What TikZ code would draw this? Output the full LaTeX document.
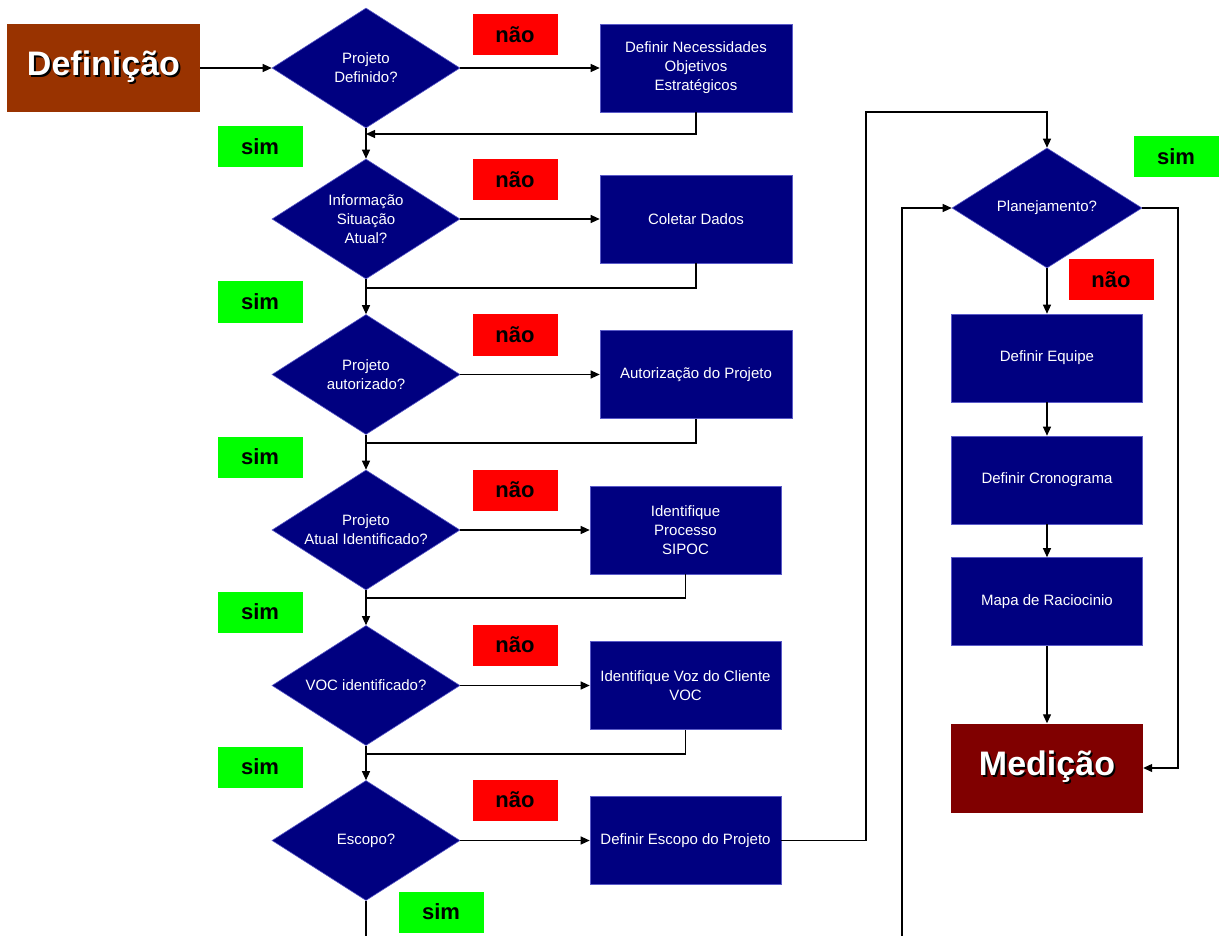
\documentclass[tikz,border=0pt]{standalone}
\usepackage{fontspec}
\setmainfont{Liberation Sans}
\usetikzlibrary{shapes.geometric,arrows.meta}
\definecolor{navy}{HTML}{000080}
\definecolor{navyedge}{HTML}{5A5AC8}
\definecolor{defbrown}{HTML}{993300}
\definecolor{medred}{HTML}{800000}
\definecolor{naored}{HTML}{FF0000}
\definecolor{simgreen}{HTML}{00FF00}
% white title text with a small black drop shadow
\newcommand{\shadowed}[1]{\leavevmode\rlap{\kern1.8pt\raisebox{-1.8pt}{\textcolor{black}{#1}}}\textcolor{white}{#1}}
\begin{document}
\begin{tikzpicture}[x=1pt,y=-1pt,
  proc/.style={rectangle, fill=navy, draw=navyedge, line width=0.6pt, text=white,
    font=\fontsize{15}{19}\selectfont, align=center, inner sep=0pt,
    minimum width=192pt, minimum height=88pt},
  decision/.style={diamond, fill=navy, draw=navyedge, line width=0.6pt, text=white,
    font=\fontsize{15}{19}\selectfont, align=center, inner sep=0pt, aspect=1.567,
    minimum width=188pt, minimum height=120pt},
  phase/.style={rectangle, inner sep=0pt, minimum width=193pt, minimum height=88pt,
    font=\fontsize{34}{40}\selectfont\bfseries},
  naotag/.style={rectangle, fill=naored, inner sep=0pt, minimum width=85pt, minimum height=41pt,
    font=\fontsize{22}{26}\selectfont\bfseries},
  simtag/.style={rectangle, fill=simgreen, inner sep=0pt, minimum width=85pt, minimum height=41pt,
    font=\fontsize{22}{26}\selectfont\bfseries},
  link/.style={draw=black, line width=1.2pt},
  arr/.style={link, -{Triangle[length=9pt,width=8pt]}}]
\useasboundingbox (0,0) rectangle (1219,936);
\fill[white] (0,0) rectangle (1219,936);

% phase boxes
\node[phase, fill=defbrown] (def) at (103.5,68) {\shadowed{Definição}};
\node[phase, fill=medred, minimum width=192pt, minimum height=89pt] (med) at (1047,768) {\shadowed{Medição}};

% decisions of the left column
\node[decision] (d1) at (366,68) {Projeto\\Definido?};
\node[decision] (d2) at (366,219) {Informação\\Situação\\Atual?};
\node[decision] (d3) at (366,374.5) {Projeto\\autorizado?};
\node[decision] (d4) at (366,530) {Projeto\\Atual Identificado?};
\node[decision] (d5) at (366,685.5) {VOC identificado?};
\node[decision] (d6) at (366,840.5) {Escopo?};

% actions of the left column
\node[proc] (b1) at (696,68) {Definir Necessidades\\Objetivos\\Estratégicos};
\node[proc] (b2) at (696,219) {Coletar Dados};
\node[proc] (b3) at (696,374.5) {Autorização do Projeto};
\node[proc, minimum width=191pt] (b4) at (685.5,530) {Identifique\\Processo\\SIPOC};
\node[proc, minimum width=191pt] (b5) at (685.5,685.5) {Identifique Voz do Cliente\\VOC};
\node[proc, minimum width=191pt] (b6) at (685.5,840.5) {Definir Escopo do Projeto};

% planning column
\node[decision, minimum width=190pt] (d7) at (1047,208) {Planejamento?};
\node[proc, minimum width=191pt] (eq) at (1047,358) {Definir Equipe};
\node[proc, minimum width=191pt] (cr) at (1047,480) {Definir Cronograma};
\node[proc, minimum width=191pt] (ma) at (1047,601.5) {Mapa de Raciocinio};

% answer tags
\node[naotag] (n1) at (515,35) {não};
\node[naotag] (n2) at (515,180) {não};
\node[naotag] (n3) at (515,335) {não};
\node[naotag] (n4) at (515,490) {não};
\node[naotag] (n5) at (515,645) {não};
\node[naotag] (n6) at (515,800) {não};
\node[naotag] (n7) at (1111,280) {não};
\node[simtag] (s1) at (260,147) {sim};
\node[simtag] (s2) at (260,302) {sim};
\node[simtag] (s3) at (260,457) {sim};
\node[simtag] (s4) at (260,612) {sim};
\node[simtag] (s5) at (260,767) {sim};
\node[simtag] (s6) at (441,912) {sim};
\node[simtag] (s7) at (1176,157) {sim};

% junction points on the main line
\coordinate (j1) at (366,134);
\coordinate (j2) at (366,288);
\coordinate (j3) at (366,443);
\coordinate (j4) at (366,598);
\coordinate (j5) at (366,754);
\coordinate (e2) at (366,936);
\coordinate (t1) at (866,112);
\coordinate (e1) at (902,936);
\coordinate (r1) at (1178,208);

% main flow
\draw[arr] (def.east) -- (d1.west);
\draw[arr] (d1.east) -- (b1.west);
\draw[arr] (d2.east) -- (b2.west);
\draw[arr] (d3.east) -- (b3.west);
\draw[arr] (d4.east) -- (b4.west);
\draw[arr] (d5.east) -- (b5.west);
\draw[arr] (d6.east) -- (b6.west);
\draw[arr] (d1.south) -- (d2.north);
\draw[arr] (d2.south) -- (d3.north);
\draw[arr] (d3.south) -- (d4.north);
\draw[arr] (d4.south) -- (d5.north);
\draw[arr] (d5.south) -- (d6.north);
\draw[link] (d6.south) -- (e2);

% returns to the main line
\draw[arr] (b1.south) |- (j1);
\draw[link] (b2.south) |- (j2);
\draw[link] (b3.south) |- (j3);
\draw[link] (b4.south) |- (j4);
\draw[link] (b5.south) |- (j5);

% planning
\draw[arr] (b6.east) -| (t1) -| (d7.north);
\draw[arr] (e1) |- (d7.west);
\draw[arr] (d7.east) -- (r1) |- (med.east);
\draw[arr] (d7.south) -- (eq.north);
\draw[arr] (eq.south) -- (cr.north);
\draw[arr] (cr.south) -- (ma.north);
\draw[arr] (ma.south) -- (med.north);
\end{tikzpicture}
\end{document}
